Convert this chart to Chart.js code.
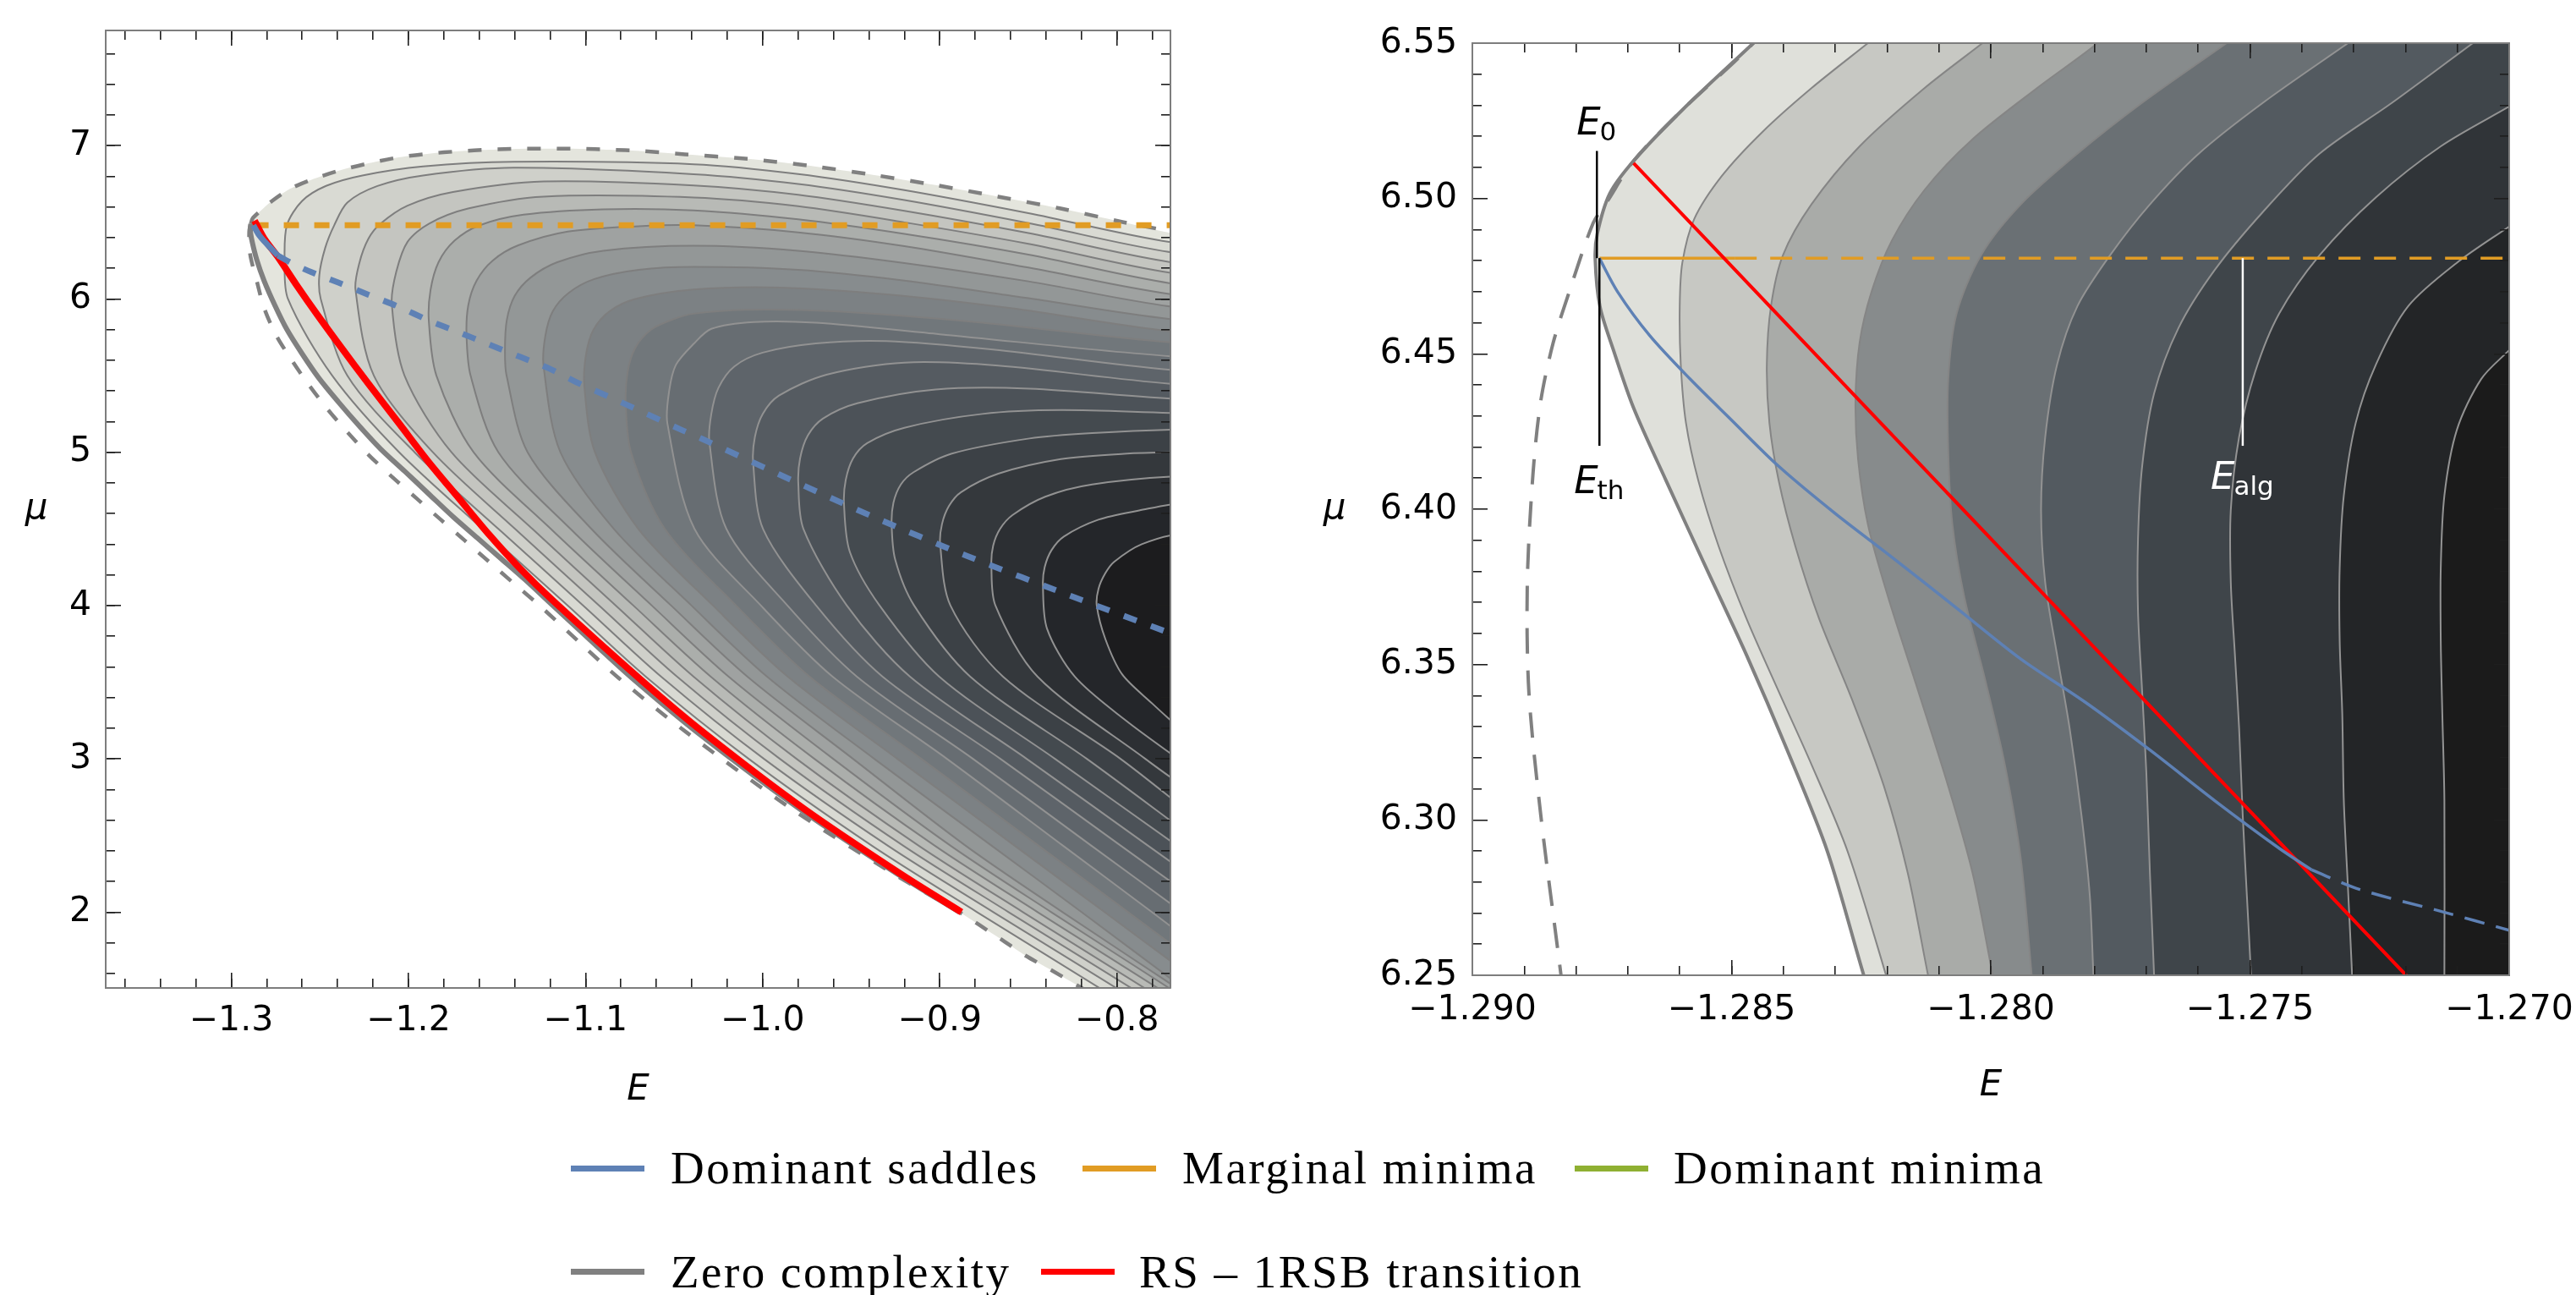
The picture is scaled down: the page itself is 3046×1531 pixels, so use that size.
<!DOCTYPE html>
<html><head><meta charset="utf-8">
<script src="https://cdn.jsdelivr.net/npm/chart.js@4.4.0/dist/chart.umd.min.js"></script>
<style>
html,body{margin:0;padding:0;background:#fff;width:3046px;height:1531px;overflow:hidden;position:relative;}
#cL{position:absolute;left:0;top:0;}
#cR{position:absolute;left:1540px;top:0;}
.lg{position:absolute;font-family:'Liberation Serif',serif;font-size:55px;letter-spacing:2.5px;line-height:55px;white-space:nowrap;color:#000;}
.ln{position:absolute;height:7px;width:87px;}
</style></head><body>
<canvas id="cL" width="1450" height="1330"></canvas>
<canvas id="cR" width="1506" height="1330"></canvas>
<div class="ln" style="left:675px;top:1378px;background:#5e81b5"></div>
<div class="lg" style="left:793px;top:1353px">Dominant saddles</div>
<div class="ln" style="left:1280px;top:1378px;background:#e19c24"></div>
<div class="lg" style="left:1398px;top:1353px">Marginal minima</div>
<div class="ln" style="left:1862px;top:1378px;background:#8fb032"></div>
<div class="lg" style="left:1979px;top:1353px">Dominant minima</div>
<div class="ln" style="left:675px;top:1500px;background:#808080"></div>
<div class="lg" style="left:793px;top:1476px">Zero complexity</div>
<div class="ln" style="left:1231px;top:1500px;background:#ff0000"></div>
<div class="lg" style="left:1347px;top:1476px">RS – 1RSB transition</div>
<script>
// ---------------- LEFT PANEL DATA (E, mu) ----------------
const L_X_RANGE = [-1.3709, -0.7698];
const L_Y_RANGE = [1.505, 7.752];
const L_X_MAJOR = [-1.3, -1.2, -1.1, -1.0, -0.9, -0.8];
const L_X_LABELS = ['−1.3', '−1.2', '−1.1', '−1.0', '−0.9', '−0.8'];
const L_X_MINOR = [-1.36,-1.34,-1.32,-1.30,-1.28,-1.26,-1.24,-1.22,-1.20,-1.18,-1.16,-1.14,-1.12,-1.10,-1.08,-1.06,-1.04,-1.02,-1.00,-0.98,-0.96,-0.94,-0.92,-0.90,-0.88,-0.86,-0.84,-0.82,-0.80,-0.78];
const L_Y_MAJOR = [2, 3, 4, 5, 6, 7];
const L_Y_LABELS = ['2', '3', '4', '5', '6', '7'];
const L_Y_MINOR = [1.6,1.8,2.0,2.2,2.4,2.6,2.8,3.0,3.2,3.4,3.6,3.8,4.0,4.2,4.4,4.6,4.8,5.0,5.2,5.4,5.6,5.8,6.0,6.2,6.4,6.6,6.8,7.0,7.2,7.4,7.6];

const L_REGION = [[-0.815,1.47],[-0.821,1.512],[-0.8372,1.622],[-0.8516,1.716],[-0.8659,1.826],[-0.889,2.0],[-0.924,2.249],[-0.979,2.672],[-1.0365,3.168],[-1.074,3.529],[-1.095,3.75],[-1.1185,4.0],[-1.134,4.167],[-1.1476,4.305],[-1.1612,4.442],[-1.1749,4.58],[-1.1885,4.728],[-1.2021,4.876],[-1.2158,5.023],[-1.2277,5.171],[-1.2396,5.329],[-1.2507,5.486],[-1.2601,5.644],[-1.2686,5.801],[-1.2754,5.959],[-1.2814,6.117],[-1.2856,6.255],[-1.2882,6.373],[-1.2893,6.45],[-1.2890,6.49],[-1.2880,6.525],[-1.2840,6.57],[-1.2771,6.639],[-1.2669,6.718],[-1.255,6.777],[-1.2396,6.836],[-1.2226,6.885],[-1.2055,6.924],[-1.1885,6.948],[-1.1714,6.964],[-1.1544,6.974],[-1.1373,6.98],[-1.1203,6.981],[-1.1033,6.98],[-1.0862,6.974],[-1.0692,6.966],[-1.0439,6.944],[-1.0085,6.914],[-0.9732,6.869],[-0.9378,6.81],[-0.9024,6.743],[-0.8671,6.668],[-0.8317,6.59],[-0.7963,6.501],[-0.762,6.42]];

const L_C01 = [[-0.8022,1.45],[-0.879,2.0],[-0.9383,2.433],[-1.0079,3.0],[-1.066,3.536],[-1.11,4.0],[-1.1582,4.5],[-1.2052,5.0],[-1.243,5.5],[-1.268,6.0],[-1.2699,6.255],[-1.2686,6.481],[-1.2601,6.639],[-1.2465,6.738],[-1.226,6.806],[-1.1918,6.865],[-1.1408,6.895],[-1.039,6.879],[-0.98,6.815],[-0.92,6.71],[-0.85,6.56],[-0.762,6.358]];
const L_C02 = [[-0.7927,1.45],[-0.8698,2.0],[-0.9293,2.433],[-0.9993,3.0],[-1.0573,3.536],[-1.1013,4.0],[-1.1492,4.5],[-1.1965,5.0],[-1.2345,5.5],[-1.2495,6.0],[-1.2503,6.155],[-1.247,6.333],[-1.2419,6.481],[-1.2345,6.629],[-1.2175,6.737],[-1.1918,6.806],[-1.1408,6.856],[-1.039,6.814],[-0.98,6.75],[-0.92,6.645],[-0.85,6.495],[-0.762,6.293]];
const L_C03 = [[-0.7843,1.45],[-0.8612,2.0],[-0.9206,2.433],[-0.9903,3.0],[-1.0483,3.536],[-1.0923,4.0],[-1.1398,4.5],[-1.1862,5.0],[-1.2195,5.5],[-1.2299,6.062],[-1.2277,6.235],[-1.2226,6.393],[-1.2158,6.491],[-1.2005,6.609],[-1.1749,6.698],[-1.1237,6.767],[-1.039,6.741],[-0.98,6.68],[-0.92,6.575],[-0.85,6.43],[-0.762,6.228]];
const L_C04 = [[-0.7769,1.45],[-0.8531,2.0],[-0.9119,2.433],[-0.9809,3.0],[-1.039,3.536],[-1.0829,4.0],[-1.13,4.5],[-1.1757,5.0],[-1.2022,5.5],[-1.2094,5.967],[-1.2069,6.176],[-1.2005,6.373],[-1.1885,6.491],[-1.1663,6.59],[-1.1237,6.668],[-1.039,6.662],[-0.98,6.605],[-0.92,6.5],[-0.85,6.36],[-0.762,6.158]];
const L_C05 = [[-0.7695,1.45],[-0.8448,2.0],[-0.9028,2.433],[-0.9708,3.0],[-1.0293,3.536],[-1.073,4.0],[-1.1196,4.5],[-1.1632,5.0],[-1.1842,5.5],[-1.1885,5.86],[-1.1875,6.06],[-1.183,6.24],[-1.174,6.38],[-1.16,6.48],[-1.135,6.55],[-1.09,6.585],[-1.039,6.578],[-0.98,6.52],[-0.92,6.425],[-0.85,6.29],[-0.762,6.09]];
const L_C06 = [[-0.7632,1.45],[-0.8371,2.0],[-0.8939,2.433],[-0.9602,3.0],[-1.0192,3.536],[-1.0626,4.0],[-1.1085,4.5],[-1.1492,5.0],[-1.1649,5.5],[-1.1672,5.762],[-1.1662,5.96],[-1.1615,6.12],[-1.1525,6.25],[-1.138,6.35],[-1.11,6.44],[-1.07,6.475],[-1.039,6.481],[-0.98,6.435],[-0.92,6.345],[-0.85,6.205],[-0.762,6.02]];
const L_C07 = [[-0.759,1.45],[-0.8307,2.0],[-0.8854,2.433],[-0.949,3.0],[-1.0086,3.536],[-1.0517,4.0],[-1.0967,4.5],[-1.1327,5.0],[-1.1446,5.5],[-1.1455,5.663],[-1.1445,5.86],[-1.14,6.02],[-1.131,6.14],[-1.116,6.24],[-1.09,6.315],[-1.039,6.347],[-0.98,6.315],[-0.92,6.235],[-0.85,6.115],[-0.762,5.94]];
const L_C08 = [[-0.762,1.5],[-0.82,2.0],[-0.8707,2.433],[-0.937,3.0],[-0.9975,3.536],[-1.0402,4.0],[-1.084,4.5],[-1.1142,5.0],[-1.1237,5.561],[-1.1227,5.76],[-1.1185,5.92],[-1.1095,6.04],[-1.095,6.13],[-1.07,6.19],[-1.039,6.209],[-0.98,6.19],[-0.92,6.12],[-0.85,6.005],[-0.762,5.86]];
const L_C09 = [[-0.762,1.615],[-0.807,2.0],[-0.8577,2.433],[-0.924,3.0],[-0.9858,3.536],[-1.028,4.0],[-1.0702,4.5],[-1.0947,5.0],[-1.1007,5.434],[-1.0997,5.64],[-1.0955,5.8],[-1.0865,5.92],[-1.072,6.0],[-1.039,6.062],[-0.99,6.075],[-0.93,6.03],[-0.86,5.94],[-0.762,5.78]];
const L_C10 = [[-0.762,1.728],[-0.7937,2.0],[-0.8442,2.433],[-0.9104,3.0],[-0.9735,3.536],[-1.015,4.0],[-1.0552,4.5],[-1.0743,5.0],[-1.0773,5.312],[-1.0763,5.52],[-1.072,5.68],[-1.063,5.8],[-1.05,5.87],[-1.039,5.904],[-1.01,5.93],[-0.96,5.92],[-0.88,5.85],[-0.762,5.71]];
const L_C11 = [[-0.762,1.84],[-0.7803,2.0],[-0.8304,2.433],[-0.896,3.0],[-0.9605,3.536],[-1.001,4.0],[-1.0385,4.5],[-1.0538,5.188],[-1.0528,5.4],[-1.049,5.57],[-1.039,5.707],[-1.029,5.805],[-1.005,5.85],[-0.97,5.845],[-0.9,5.77],[-0.762,5.62]];
const L_C12 = [[-0.762,1.99],[-0.8144,2.433],[-0.8813,3.0],[-0.9468,3.536],[-0.986,4.0],[-1.0205,4.5],[-1.0301,5.067],[-1.029,5.25],[-1.025,5.42],[-1.016,5.56],[-1.0,5.65],[-0.97,5.71],[-0.93,5.725],[-0.87,5.67],[-0.762,5.53]];
const L_C13 = [[-0.762,2.135],[-0.7978,2.433],[-0.8658,3.0],[-0.9323,3.536],[-0.9698,4.0],[-0.9998,4.5],[-1.0054,4.933],[-1.0044,5.1],[-1.0,5.25],[-0.9908,5.37],[-0.964,5.506],[-0.92,5.585],[-0.867,5.565],[-0.762,5.44]];
const L_C14 = [[-0.762,2.265],[-0.7824,2.433],[-0.851,3.0],[-0.9168,3.536],[-0.9525,4.0],[-0.977,4.5],[-0.9799,4.799],[-0.9789,4.96],[-0.9745,5.11],[-0.966,5.22],[-0.9466,5.32],[-0.9024,5.41],[-0.8494,5.415],[-0.762,5.345]];
const L_C15 = [[-0.762,2.4],[-0.835,3.0],[-0.9003,3.536],[-0.934,4.0],[-0.9508,4.35],[-0.9541,4.664],[-0.9531,4.82],[-0.949,4.96],[-0.941,5.06],[-0.92,5.16],[-0.876,5.25],[-0.8317,5.275],[-0.762,5.255]];
const L_C16 = [[-0.762,2.53],[-0.817,3.0],[-0.8828,3.536],[-0.9145,4.0],[-0.9252,4.3],[-0.9272,4.529],[-0.9262,4.67],[-0.922,4.79],[-0.9148,4.87],[-0.8936,4.99],[-0.8494,5.09],[-0.814,5.125],[-0.762,5.15]];
const L_C17 = [[-0.762,2.675],[-0.798,3.0],[-0.8643,3.536],[-0.894,4.0],[-0.8998,4.397],[-0.8988,4.53],[-0.8948,4.65],[-0.888,4.74],[-0.867,4.86],[-0.8317,4.955],[-0.796,4.99],[-0.762,5.0]];
const L_C18 = [[-0.762,2.815],[-0.784,3.0],[-0.8448,3.536],[-0.8686,4.0],[-0.8709,4.263],[-0.8699,4.39],[-0.866,4.5],[-0.859,4.59],[-0.8405,4.71],[-0.814,4.79],[-0.762,4.845]];
const L_C19 = [[-0.762,2.97],[-0.795,3.25],[-0.8238,3.536],[-0.8395,3.85],[-0.8418,4.133],[-0.8408,4.25],[-0.837,4.36],[-0.83,4.45],[-0.8105,4.56],[-0.7875,4.62],[-0.762,4.67]];
const L_C20 = [[-0.762,3.17],[-0.78,3.36],[-0.797,3.55],[-0.8065,3.78],[-0.8114,4.0],[-0.8104,4.11],[-0.8066,4.21],[-0.8016,4.285],[-0.786,4.4],[-0.762,4.47]];

const L_DASH_TOP = [[-1.2890,6.49],[-1.2880,6.525],[-1.284,6.57],[-1.2771,6.639],[-1.2669,6.718],[-1.255,6.777],[-1.2396,6.836],[-1.2226,6.885],[-1.2055,6.924],[-1.1885,6.948],[-1.1714,6.964],[-1.1544,6.974],[-1.1373,6.98],[-1.1203,6.981],[-1.1033,6.98],[-1.0862,6.974],[-1.0692,6.966],[-1.0439,6.944],[-1.0085,6.914],[-0.9732,6.869],[-0.9378,6.81],[-0.9024,6.743],[-0.8671,6.668],[-0.8317,6.59],[-0.7963,6.501],[-0.7698,6.442]];
const L_DASH_LOW = [[-1.2890,6.49],[-1.2899,6.44],[-1.2894,6.294],[-1.2856,6.117],[-1.2814,5.939],[-1.2746,5.762],[-1.2661,5.605],[-1.2567,5.447],[-1.2456,5.28],[-1.2345,5.132],[-1.2226,4.984],[-1.2089,4.836],[-1.1953,4.698],[-1.1817,4.56],[-1.168,4.422],[-1.1544,4.285],[-1.1408,4.147],[-1.126,4.0],[-1.1025,3.75],[-1.0815,3.529],[-1.0425,3.168],[-0.9835,2.672],[-0.926,2.249],[-0.889,2.0],[-0.8659,1.826],[-0.8516,1.716],[-0.8372,1.622],[-0.821,1.512],[-0.815,1.47]];
const L_ZERO = [[-1.2890,6.49],[-1.2893,6.45],[-1.2882,6.373],[-1.2856,6.255],[-1.2814,6.117],[-1.2754,5.959],[-1.2686,5.801],[-1.2601,5.644],[-1.2507,5.486],[-1.2396,5.329],[-1.2277,5.171],[-1.2158,5.023],[-1.2021,4.876],[-1.1885,4.728],[-1.1749,4.58],[-1.1612,4.442],[-1.1476,4.305],[-1.134,4.167],[-1.1185,4.0],[-1.095,3.75],[-1.074,3.529],[-1.0365,3.168],[-0.979,2.672],[-0.924,2.249],[-0.889,2.0]];
const L_RED = [[-1.2869,6.511],[-1.2814,6.393],[-1.2737,6.274],[-1.2635,6.097],[-1.2516,5.9],[-1.2379,5.683],[-1.2226,5.447],[-1.2055,5.191],[-1.1885,4.935],[-1.1714,4.698],[-1.1544,4.462],[-1.1373,4.245],[-1.1185,4.033],[-1.069,3.518],[-1.033,3.168],[-0.9765,2.672],[-0.9222,2.249],[-0.8878,2.0]];
const L_BLUE_SOLID = [[-1.28755,6.4808],[-1.2841,6.414],[-1.2794,6.352],[-1.2738,6.284]];
const L_BLUE_DASH = [[-1.2738,6.284],[-1.265,6.228],[-1.255,6.176],[-1.2396,6.107],[-1.2226,6.028],[-1.2055,5.949],[-1.1885,5.86],[-1.1714,5.782],[-1.1544,5.703],[-1.1373,5.624],[-1.1203,5.545],[-1.1033,5.447],[-1.0862,5.359],[-1.0692,5.27],[-1.047,5.152],[-1.0351,5.092],[-0.9908,4.856],[-0.9378,4.58],[-0.8847,4.324],[-0.8229,4.049],[-0.7698,3.819]];
const L_ORANGE = [[-1.28755,6.481],[-0.7698,6.481]];

// ---------------- RIGHT PANEL DATA (E, mu) ----------------
const R_X_RANGE = [-1.29, -1.27];
const R_Y_RANGE = [6.25, 6.55];
const R_X_MAJOR = [-1.29, -1.285, -1.28, -1.275, -1.27];
const R_X_LABELS = ['−1.290', '−1.285', '−1.280', '−1.275', '−1.270'];
const R_X_MINOR = [-1.290,-1.289,-1.288,-1.287,-1.286,-1.285,-1.284,-1.283,-1.282,-1.281,-1.280,-1.279,-1.278,-1.277,-1.276,-1.275,-1.274,-1.273,-1.272,-1.271,-1.270];
const R_Y_MAJOR = [6.25, 6.3, 6.35, 6.4, 6.45, 6.5, 6.55];
const R_Y_LABELS = ['6.25', '6.30', '6.35', '6.40', '6.45', '6.50', '6.55'];
const R_Y_MINOR = [6.26,6.27,6.28,6.29,6.31,6.32,6.33,6.34,6.36,6.37,6.38,6.39,6.41,6.42,6.43,6.44,6.46,6.47,6.48,6.49,6.51,6.52,6.53,6.54];

const R_ZERO = [[-1.2842,6.556],[-1.28458,6.55],[-1.28595,6.5285],[-1.28689,6.5121],[-1.28735,6.5016],[-1.28759,6.4887],[-1.28763,6.4805],[-1.28754,6.4653],[-1.28728,6.4513],[-1.28689,6.4326],[-1.28626,6.4091],[-1.28549,6.3811],[-1.28471,6.353],[-1.28393,6.3226],[-1.28315,6.2898],[-1.28245,6.25],[-1.28232,6.244]];
const R_C1 = [[-1.28192,6.556],[-1.28237,6.55],[-1.28346,6.5355],[-1.2844,6.5215],[-1.28518,6.5074],[-1.28572,6.4934],[-1.28595,6.4793],[-1.286,6.4653],[-1.28598,6.4466],[-1.28588,6.4278],[-1.28564,6.4091],[-1.28525,6.3881],[-1.28471,6.3647],[-1.28409,6.3413],[-1.28346,6.3179],[-1.28276,6.2898],[-1.28202,6.25],[-1.28194,6.244]];
const R_C2 = [[-1.2797,6.556],[-1.28016,6.55],[-1.28128,6.5355],[-1.28253,6.5168],[-1.28346,6.4981],[-1.28401,6.4817],[-1.28424,6.4653],[-1.28432,6.4466],[-1.28427,6.4278],[-1.28409,6.4091],[-1.28377,6.3881],[-1.28331,6.3647],[-1.28268,6.3389],[-1.28206,6.3108],[-1.2816,6.2828],[-1.28121,6.25],[-1.28113,6.244]];
const R_C3 = [[-1.2776,6.556],[-1.27794,6.55],[-1.27911,6.5355],[-1.28035,6.5191],[-1.28128,6.5027],[-1.28191,6.4864],[-1.2823,6.47],[-1.28253,6.4536],[-1.28261,6.4349],[-1.28256,6.4161],[-1.28237,6.3951],[-1.28198,6.3717],[-1.28144,6.3436],[-1.28082,6.3108],[-1.28035,6.2828],[-1.27996,6.25],[-1.27988,6.244]];
const R_C4 = [[-1.27495,6.556],[-1.27545,6.55],[-1.27708,6.5308],[-1.27833,6.5144],[-1.27942,6.4981],[-1.28019,6.4817],[-1.28066,6.4629],[-1.28082,6.4419],[-1.28082,6.4185],[-1.28074,6.3951],[-1.28051,6.3717],[-1.28012,6.3459],[-1.27973,6.3179],[-1.27942,6.2874],[-1.27921,6.25],[-1.27918,6.244]];
const R_C5 = [[-1.2726,6.556],[-1.27311,6.55],[-1.27475,6.5308],[-1.27599,6.5144],[-1.27693,6.4981],[-1.2777,6.4817],[-1.27833,6.4653],[-1.27872,6.4466],[-1.27895,6.4232],[-1.27903,6.3998],[-1.27895,6.3764],[-1.27872,6.353],[-1.27848,6.3296],[-1.27825,6.3015],[-1.27809,6.2757],[-1.27802,6.25],[-1.278,6.244]];
const R_C6 = [[-1.2702,6.556],[-1.2707,6.55],[-1.27226,6.5308],[-1.27366,6.5144],[-1.27475,6.4957],[-1.27568,6.477],[-1.27638,6.4583],[-1.27685,6.4372],[-1.27708,6.4138],[-1.27716,6.3904],[-1.27716,6.367],[-1.27708,6.3413],[-1.277,6.3155],[-1.27693,6.2828],[-1.27685,6.25],[-1.27684,6.244]];
const R_C7 = [[-1.2692,6.5374],[-1.27,6.5296],[-1.27132,6.5168],[-1.27257,6.5004],[-1.27366,6.4817],[-1.27444,6.4629],[-1.2749,6.4442],[-1.27521,6.4232],[-1.27537,6.3998],[-1.27537,6.3764],[-1.27529,6.353],[-1.27521,6.3296],[-1.27514,6.3015],[-1.27506,6.2757],[-1.27498,6.25],[-1.27497,6.244]];
const R_C8 = [[-1.2692,6.5003],[-1.27,6.491],[-1.27101,6.4793],[-1.27195,6.4653],[-1.27257,6.4466],[-1.27296,6.4278],[-1.27319,6.4044],[-1.27327,6.381],[-1.27327,6.3576],[-1.27322,6.3342],[-1.27319,6.3062],[-1.27311,6.2781],[-1.27303,6.25],[-1.27302,6.244]];
const R_C9 = [[-1.2692,6.465],[-1.27,6.4512],[-1.27054,6.4419],[-1.27101,6.4255],[-1.27125,6.4044],[-1.27132,6.381],[-1.27132,6.3576],[-1.27129,6.3342],[-1.27125,6.3062],[-1.27125,6.25],[-1.27125,6.244]];
const R_DASH = [[-1.2844,6.556],[-1.28458,6.55],[-1.28595,6.5285],[-1.28689,6.5121],[-1.2874,6.499],[-1.28767,6.4921],[-1.28813,6.47],[-1.28844,6.4536],[-1.28868,6.4349],[-1.28883,6.4115],[-1.28894,6.3764],[-1.28891,6.3413],[-1.28868,6.3015],[-1.28829,6.25],[-1.28825,6.244]];
const R_RED = [[-1.28689,6.5114],[-1.27199,6.25],[-1.27165,6.244]];
const R_BLUE_SOLID = [[-1.28755,6.4808],[-1.2872,6.47],[-1.28658,6.4559],[-1.2858,6.4419],[-1.28502,6.429],[-1.28409,6.4138],[-1.283,6.3986],[-1.28191,6.3846],[-1.28066,6.3682],[-1.27942,6.3518],[-1.27817,6.3378],[-1.27693,6.3225],[-1.27568,6.3062],[-1.27444,6.2909],[-1.27381,6.2839]];
const R_BLUE_DASH = [[-1.27381,6.2839],[-1.27288,6.2776],[-1.27132,6.2706],[-1.27,6.2645]];
const R_ORANGE_SOLID = [[-1.28755,6.4808],[-1.28494,6.4808]];
const R_ORANGE_DASH = [[-1.28494,6.4808],[-1.27,6.4808]];
// markers: [E, muFrom, muTo]
const R_MARK_E0 = [-1.287598, 6.5153, 6.4808];
const R_MARK_ETH = [-1.287549, 6.4808, 6.4204];
const R_MARK_EALG = [-1.27514, 6.4808, 6.4204];

// ---------------- STYLES ----------------
const L_BANDS = ['#e4e5dd','#d9dad3','#cfd0ca','#c4c5c0','#b8bab6','#abaeab','#9fa2a1','#939797','#878c8e','#7c8184','#71777b','#676d72','#5e646a','#555b61','#4c5258','#444a4f','#3c4146','#34383c','#2c2f33','#24262a','#1c1c1e'];
const R_BANDS = ['#dfe0da','#c7c8c3','#a9aba8','#878b8c','#6a7074','#535a60','#3f454a','#303438','#232527','#1b1b1b'];
const TICK_FONT = {family: 'DejaVu Sans', size: 41};

const pts = a => a.map(p => ({x: p[0], y: p[1]}));

function band(arr, color, lineColor, lw, order, xFar) {
  const d = pts(arr);
  const f = d[0], l = d[d.length - 1];
  d.push({x: xFar, y: l.y}, {x: xFar, y: f.y});
  return {data: d, fill: 'shape', backgroundColor: color, borderColor: lineColor, borderWidth: lw,
          pointRadius: 0, tension: 0.3, order: order, xAxisID: 'x', yAxisID: 'y'};
}
function line(arr, color, lw, dash, order, tension) {
  return {data: pts(arr), fill: false, borderColor: color, borderWidth: lw, borderDash: dash || [],
          pointRadius: 0, tension: tension === undefined ? 0.3 : tension, order: order, xAxisID: 'x', yAxisID: 'y',
          borderCapStyle: 'butt'};
}

function buildScales(o) {
  const mk = (axis, position, isMajor, vals, len, labels, weight, size, pad) => ({
    type: 'linear', axis: axis, position: position, weight: weight,
    min: axis === 'x' ? o.xr[0] : o.yr[0], max: axis === 'x' ? o.xr[1] : o.yr[1],
    afterBuildTicks: s => { s.ticks = vals.map(v => ({value: v})); },
    afterFit: s => {
      if (axis === 'x') s.height = size; else s.width = size;
      s.paddingLeft = 0; s.paddingRight = 0; s.paddingTop = 0; s.paddingBottom = 0;
    },
    grid: {display: true, drawOnChartArea: false, drawTicks: true, tickLength: -len, color: '#1e1e1e', lineWidth: 1.6, z: 2},
    border: {display: isMajor, color: '#7d7d7d', width: 2, z: 3},
    ticks: {display: !!labels, autoSkip: false, maxRotation: 0, minRotation: 0, padding: pad, color: '#000',
            font: TICK_FONT, callback: (v, i) => labels ? labels[i] : ''}
  });
  return {
    x: mk('x', 'bottom', true, o.xMajor, 18, o.xLabels, 1, o.bottomH, o.xPad),
    y: mk('y', 'left', true, o.yMajor, 18, o.yLabels, 1, o.leftW, o.yPad),
    xMinor: mk('x', 'bottom', false, o.xMinor, 11, null, 0, 0, 0),
    xTop: mk('x', 'top', true, o.xMajor, 18, null, 1, 0, 0),
    xTopMinor: mk('x', 'top', false, o.xMinor, 11, null, 0, 0, 0),
    yMinor: mk('y', 'left', false, o.yMinor, 11, null, 0, 0, 0),
    yRight: mk('y', 'right', true, o.yMajor, 18, null, 1, 0, 0),
    yRightMinor: mk('y', 'right', false, o.yMinor, 11, null, 0, 0, 0)
  };
}

function titlePlugin(muOff, eY) {
  return {
    id: 'axisTitles',
    afterDraw(chart) {
      const {ctx, chartArea: a} = chart;
      ctx.save();
      ctx.fillStyle = '#000';
      ctx.font = 'italic 42px "DejaVu Sans"';
      ctx.textAlign = 'center';
      ctx.textBaseline = 'middle';
      ctx.fillText('μ', a.left - muOff, (a.top + a.bottom) / 2);
      ctx.fillText('E', (a.left + a.right) / 2, eY);
      ctx.restore();
    }
  };
}

function baseOptions(scales, pad) {
  return {
    responsive: false, animation: false, events: [], devicePixelRatio: 1,
    layout: {padding: pad, autoPadding: false},
    elements: {line: {capBezierPoints: false}},
    plugins: {legend: {display: false}, tooltip: {enabled: false}, title: {display: false}},
    scales: scales
  };
}

// ---------------- LEFT CHART ----------------
(function() {
  const XF = -0.70;
  const contours = [L_C01,L_C02,L_C03,L_C04,L_C05,L_C06,L_C07,L_C08,L_C09,L_C10,L_C11,L_C12,L_C13,L_C14,L_C15,L_C16,L_C17,L_C18,L_C19,L_C20];
  const ds = [band(L_REGION, L_BANDS[0], 'rgba(0,0,0,0)', 1, 300, XF)];
  contours.forEach((c, i) => ds.push(band(c, L_BANDS[i + 1], i < 10 ? '#7e7e7e' : '#929292', 2, 299 - i, XF)));
  ds.push(line(L_DASH_TOP, '#808080', 4.5, [16, 19], 50));
  ds.push(line(L_DASH_LOW, '#808080', 4.5, [16, 19], 49));
  ds.push(line(L_ZERO, '#808080', 6, [], 40));
  ds.push(line(L_ORANGE, '#e19c24', 7, [18, 18], 30, 0));
  ds.push(line(L_RED, '#ff0000', 8, [], 20));
  ds.push(line(L_BLUE_DASH, '#5e81b5', 7, [16, 18], 9));
  ds.push(line(L_BLUE_SOLID, '#5e81b5', 7, [], 8));
  new Chart(document.getElementById('cL'), {
    type: 'line',
    data: {datasets: ds},
    options: baseOptions(buildScales({xr: L_X_RANGE, yr: L_Y_RANGE, xMajor: L_X_MAJOR, xMinor: L_X_MINOR, xLabels: L_X_LABELS,
      yMajor: L_Y_MAJOR, yMinor: L_Y_MINOR, yLabels: L_Y_LABELS, bottomH: 162, leftW: 125, xPad: 33, yPad: 35}),
      {top: 36, right: 66, bottom: 0, left: 0}),
    plugins: [titlePlugin(82, 1289)]
  });
})();

// ---------------- RIGHT CHART ----------------
(function() {
  const XF = -1.265;
  const contours = [R_C1,R_C2,R_C3,R_C4,R_C5,R_C6,R_C7,R_C8,R_C9];
  const ds = [band(R_ZERO, R_BANDS[0], 'rgba(0,0,0,0)', 1, 300, XF)];
  contours.forEach((c, i) => ds.push(band(c, R_BANDS[i + 1], i < 4 ? '#858585' : '#939393', 2, 299 - i, XF)));
  ds.push(line(R_DASH, '#808080', 4, [30, 20], 50));
  ds.push(line(R_ZERO, '#808080', 4, [], 40));
  ds.push(line(R_ORANGE_SOLID, '#e19c24', 3.5, [], 31, 0));
  ds.push(line(R_ORANGE_DASH, '#e19c24', 3.5, [26, 16], 30, 0));
  ds.push(line(R_RED, '#ff0000', 4, [], 20, 0));
  ds.push(line(R_BLUE_DASH, '#5e81b5', 3.5, [24, 14], 9));
  ds.push(line(R_BLUE_SOLID, '#5e81b5', 3.5, [], 8));

  const markerPlugin = {
    id: 'markers',
    afterDatasetsDraw(chart) {
      const {ctx} = chart;
      const xs = chart.scales.x, ys = chart.scales.y;
      const vline = (m, color) => {
        const x = xs.getPixelForValue(m[0]);
        const y1 = ys.getPixelForValue(m[1]), y2 = ys.getPixelForValue(m[2]);
        ctx.save(); ctx.strokeStyle = color; ctx.lineWidth = 2.5;
        ctx.beginPath(); ctx.moveTo(x, y1); ctx.lineTo(x, y2); ctx.stroke(); ctx.restore();
        return {x, y1, y2};
      };
      const label = (main, sub, cx, base, color) => {
        ctx.save();
        ctx.fillStyle = color; ctx.textAlign = 'left'; ctx.textBaseline = 'alphabetic';
        ctx.font = 'italic 45px "DejaVu Sans"'; const w1 = ctx.measureText(main).width;
        ctx.font = '31px "DejaVu Sans"'; const w2 = ctx.measureText(sub).width;
        const x0 = cx - (w1 + w2) / 2;
        ctx.font = 'italic 45px "DejaVu Sans"'; ctx.fillText(main, x0, base);
        ctx.font = '31px "DejaVu Sans"'; ctx.fillText(sub, x0 + w1 - 1, base + 7);
        ctx.restore();
      };
      const a = vline(R_MARK_E0, '#000');
      const b = vline(R_MARK_ETH, '#000');
      const c = vline(R_MARK_EALG, '#fff');
      label('E', '0', a.x, a.y1 - 19, '#000');
      label('E', 'th', b.x, b.y2 + 56, '#000');
      label('E', 'alg', c.x, c.y2 + 51, '#fff');
    }
  };

  new Chart(document.getElementById('cR'), {
    type: 'line',
    data: {datasets: ds},
    options: baseOptions(buildScales({xr: R_X_RANGE, yr: R_Y_RANGE, xMajor: R_X_MAJOR, xMinor: R_X_MINOR, xLabels: R_X_LABELS,
      yMajor: R_Y_MAJOR, yMinor: R_Y_MINOR, yLabels: R_Y_LABELS, bottomH: 177, leftW: 201, xPad: 35, yPad: 36}),
      {top: 51, right: 79, bottom: 0, left: 0}),
    plugins: [titlePlugin(163, 1284), markerPlugin]
  });
})();
</script>
</body></html>
